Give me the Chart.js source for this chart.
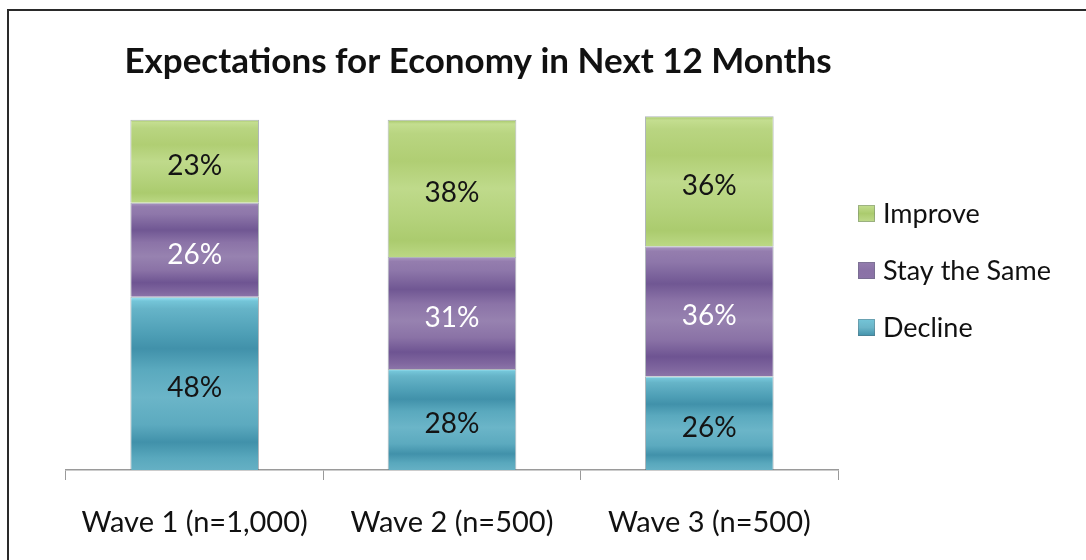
<!DOCTYPE html>
<html>
<head>
<meta charset="utf-8">
<script src="https://cdn.jsdelivr.net/npm/chart.js@4.4.1/dist/chart.umd.min.js"></script>
<style>
  html, body { margin: 0; padding: 0; background: #fff; overflow: hidden; }
  #wrap { position: relative; width: 1086px; height: 560px; }
  #frame { position: absolute; left: 7px; top: 9px; right: -20px; bottom: -20px;
           border-top: 2px solid #2a2a2a; border-left: 2px solid #2a2a2a; }
  canvas { position: absolute; left: 0; top: 0; }
</style>
</head>
<body>
<div id="wrap">
  <div id="frame"></div>
  <canvas id="myChart" width="1086" height="560"></canvas>
</div>
<script>
const chartTitle = 'Expectations for Economy in Next 12 Months';
const waves = ['Wave 1 (n=1,000)', 'Wave 2 (n=500)', 'Wave 3 (n=500)'];
const decline = [48, 28, 26];
const stayTheSame = [26, 31, 36];
const improve = [23, 38, 36];
const seriesNames = ['Decline', 'Stay the Same', 'Improve'];

const font = 'Lato, "Open Sans", sans-serif';
const seriesValues = [decline, stayTheSame, improve];

// banded fills, top of segment to bottom
const tealStops = [[0, '#a0e8f8'], [0.025, '#74c5d8'], [0.07, '#66b4c8'], [0.22, '#4d9eb5'],
  [0.3, '#4191aa'], [0.42, '#5aa9be'], [0.58, '#6bb5c8'], [0.74, '#5caabf'], [0.84, '#4191aa'],
  [0.93, '#59a8bd'], [1, '#65b0c4']];
const purpleStops = [[0, '#ab98c2'], [0.04, '#947dae'], [0.12, '#8e77aa'], [0.29, '#705793'],
  [0.42, '#8b73a7'], [0.57, '#9782b0'], [0.72, '#8a72a6'], [0.85, '#6e5492'], [0.95, '#80679f'],
  [1, '#8b74a8']];
const greenStops = [[0, '#a4c566'], [0.03, '#c4de90'], [0.1, '#b9d581'], [0.3, '#b0ce73'],
  [0.5, '#bfda8b'], [0.7, '#b5d37d'], [0.88, '#abcb6e'], [1, '#bbd884']];
const fills = [tealStops, purpleStops, greenStops];
const labelColors = ['#141414', '#ffffff', '#141414'];

function segmentFill(stops) {
    return function (c) {
        const chart = c.chart;
        const y = chart.scales.y;
        if (!y || c.dataIndex === undefined) return stops[2][1];
        let base = 0;
        for (let k = 0; k < c.datasetIndex; k++) base += seriesValues[k][c.dataIndex];
        const top = y.getPixelForValue(base + seriesValues[c.datasetIndex][c.dataIndex]);
        const bottom = y.getPixelForValue(base);
        if (!isFinite(top) || !isFinite(bottom) || top === bottom) return stops[2][1];
        const g = chart.ctx.createLinearGradient(0, top, 0, bottom);
        stops.forEach(s => g.addColorStop(s[0], s[1]));
        return g;
    };
}

// value labels in the middle of each segment
const segmentLabels = {
    id: 'segmentLabels',
    afterDatasetsDraw(chart) {
        const ctx = chart.ctx;
        ctx.save();
        ctx.font = '28px ' + font;
        ctx.textAlign = 'center';
        ctx.textBaseline = 'middle';
        chart.data.datasets.forEach((ds, i) => {
            chart.getDatasetMeta(i).data.forEach((bar, j) => {
                ctx.fillStyle = labelColors[i];
                ctx.fillText(ds.data[j] + '%', bar.x, (bar.y + bar.base) / 2 + 5);
            });
        });
        ctx.restore();
    }
};

// title and legend placed off to the side of the plot
const sideText = {
    id: 'sideText',
    afterDraw(chart) {
        const ctx = chart.ctx;
        ctx.save();
        ctx.fillStyle = '#111';
        ctx.font = 'bold 35px ' + font;
        ctx.textAlign = 'center';
        ctx.textBaseline = 'middle';
        ctx.fillText(chartTitle, 478, 62);

        ctx.font = '27px ' + font;
        ctx.textAlign = 'left';
        const order = [2, 1, 0];
        order.forEach((i, n) => {
            const yc = 213 + n * 57;
            const g = ctx.createLinearGradient(858, yc - 8, 858, yc + 9);
            g.addColorStop(0, fills[i][1][1]);
            g.addColorStop(0.5, fills[i][6][1]);
            g.addColorStop(1, fills[i][4][1]);
            ctx.fillStyle = g;
            ctx.fillRect(858, yc - 8, 17, 17);
            ctx.strokeStyle = 'rgba(90,100,110,0.35)';
            ctx.strokeRect(858.5, yc - 7.5, 16, 16);
            ctx.fillStyle = '#111';
            ctx.fillText(seriesNames[i], 883, yc + 1);
        });
        ctx.restore();
    }
};

const data = {
    labels: waves,
    datasets: seriesNames.map((name, i) => ({
        label: name,
        data: seriesValues[i],
        backgroundColor: segmentFill(fills[i]),
        borderColor: 'rgba(80,95,105,0.45)',
        borderWidth: 1,
        categoryPercentage: 1,
        barPercentage: 0.5
    }))
};

const config = {
    type: 'bar',
    data: data,
    options: {
        responsive: false,
        animation: false,
        layout: { padding: { left: 66, right: 248, top: 109, bottom: 20 } },
        plugins: {
            legend: { display: false },
            title: { display: false },
            tooltip: { enabled: false }
        },
        scales: {
            x: {
                stacked: true,
                grid: { drawOnChartArea: false, drawTicks: true, tickLength: 10, color: '#9a9a9a', offset: true },
                border: { display: true, color: '#9a9a9a', width: 1.5 },
                ticks: { color: '#111', font: { family: font, size: 29 }, padding: 25 },
                afterFit(scale) { scale.height = 70; }
            },
            y: {
                stacked: true,
                display: false,
                min: 0,
                max: 100
            }
        }
    },
    plugins: [segmentLabels, sideText]
};

const myChart = new Chart(document.getElementById('myChart'), config);
</script>
</body>
</html>
